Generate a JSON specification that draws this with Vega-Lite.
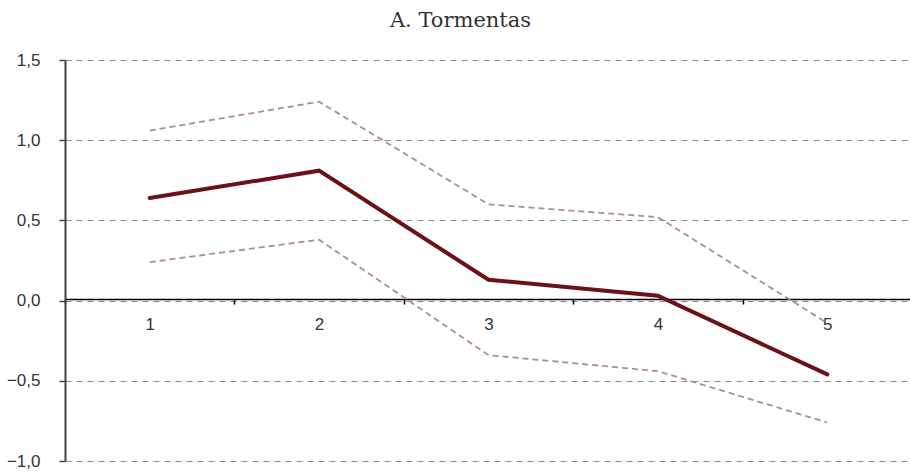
{
  "$schema": "https://vega.github.io/schema/vega-lite/v6.json",
  "autosize": {"type": "none"},
  "padding": {"left": 65, "top": 60, "right": 0, "bottom": 11},
  "width": 847,
  "height": 401,
  "background": "white",
  "title": {
    "text": "A. Tormentas",
    "font": "DejaVu Serif",
    "fontSize": 21,
    "fontWeight": "normal",
    "color": "#333333",
    "offset": 20,
    "dx": -28
  },
  "data": {
    "values": [
      {"h": "1", "serie": "central", "valor": 0.64},
      {"h": "2", "serie": "central", "valor": 0.81},
      {"h": "3", "serie": "central", "valor": 0.13},
      {"h": "4", "serie": "central", "valor": 0.03},
      {"h": "5", "serie": "central", "valor": -0.46},
      {"h": "1", "serie": "superior", "valor": 1.06},
      {"h": "2", "serie": "superior", "valor": 1.24},
      {"h": "3", "serie": "superior", "valor": 0.6},
      {"h": "4", "serie": "superior", "valor": 0.52},
      {"h": "5", "serie": "superior", "valor": -0.14},
      {"h": "1", "serie": "inferior", "valor": 0.24},
      {"h": "2", "serie": "inferior", "valor": 0.38},
      {"h": "3", "serie": "inferior", "valor": -0.34},
      {"h": "4", "serie": "inferior", "valor": -0.44},
      {"h": "5", "serie": "inferior", "valor": -0.76}
    ]
  },
  "encoding": {
    "x": {
      "field": "h",
      "type": "ordinal",
      "scale": {"type": "band", "paddingInner": 0, "paddingOuter": 0},
      "axis": {
        "title": null,
        "orient": "bottom",
        "offset": -162,
        "labelAngle": 0,
        "domainColor": "#000000",
        "domainWidth": 1.5,
        "tickColor": "#000000",
        "tickWidth": 1.5,
        "tickSize": 5,
        "tickBand": "extent",
        "labelPadding": 12,
        "labelFont": "Liberation Sans",
        "labelFontSize": 17,
        "labelColor": "#333333",
        "grid": false
      }
    },
    "y": {
      "field": "valor",
      "type": "quantitative",
      "scale": {"domain": [-1, 1.5], "nice": false, "zero": false},
      "axis": {
        "title": null,
        "values": [-1, -0.5, 0, 0.5, 1, 1.5],
        "labelExpr": "replace(format(datum.value, '.1f'), '.', ',')",
        "domainColor": "#404040",
        "domainWidth": 2,
        "tickColor": "#404040",
        "tickWidth": 1.5,
        "tickSize": 6,
        "labelPadding": 19,
        "labelFont": "Liberation Sans",
        "labelFontSize": 17,
        "labelColor": "#333333",
        "grid": true,
        "gridColor": "#8a8a8a",
        "gridDash": [6, 5],
        "gridWidth": 1
      }
    }
  },
  "layer": [
    {
      "transform": [{"filter": "datum.serie !== 'central'"}],
      "mark": {"type": "line", "color": "#ab8f86", "strokeWidth": 1.8, "strokeDash": [6, 4]},
      "encoding": {"detail": {"field": "serie"}}
    },
    {
      "transform": [{"filter": "datum.serie === 'central'"}],
      "mark": {"type": "line", "color": "#6b1216", "strokeWidth": 4, "strokeCap": "round"},
      "encoding": {}
    }
  ],
  "config": {"view": {"stroke": null}}
}
